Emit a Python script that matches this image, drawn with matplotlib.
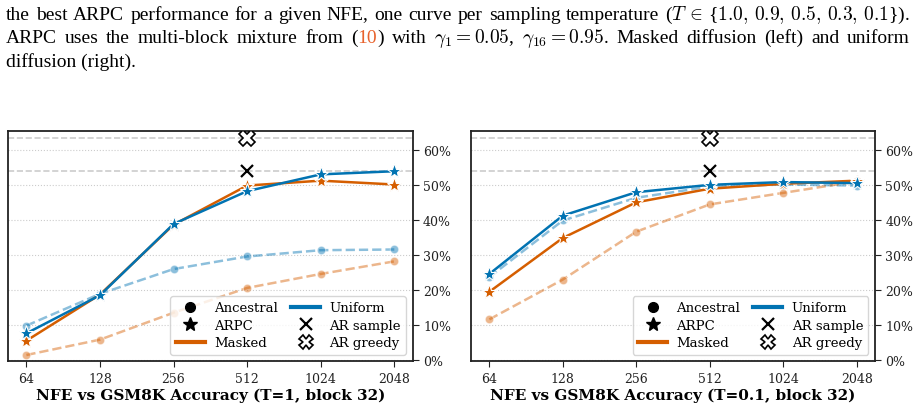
import matplotlib
matplotlib.use('Agg')
import matplotlib.pyplot as plt
from matplotlib.lines import Line2D
from matplotlib.ticker import PercentFormatter

plt.rcParams['font.family'] = 'DejaVu Serif'
plt.rcParams['mathtext.fontset'] = 'cm'

nfe = [64, 128, 256, 512, 1024, 2048]

# T=1 (left)
t1_masked_arpc = [5.4, 18.6, 38.6, 49.8, 51.2, 50.1]
t1_uniform_arpc = [7.5, 18.4, 38.8, 48.2, 53.0, 53.9]
t1_masked_anc = [1.3, 5.7, 13.4, 20.5, 24.5, 28.1]
t1_uniform_anc = [9.7, 18.8, 25.9, 29.5, 31.3, 31.5]

# T=0.1 (right)
t01_masked_arpc = [19.4, 34.8, 45.0, 48.9, 50.3, 51.2]
t01_uniform_arpc = [24.5, 41.2, 47.9, 50.0, 50.8, 50.5]
t01_masked_anc = [11.5, 22.9, 36.6, 44.4, 47.7, 51.0]
t01_uniform_anc = [23.6, 39.8, 46.3, 49.5, 50.1, 49.8]

ar_sample = 54.0
ar_greedy = 63.5
ar_nfe = 512

titles = ['NFE vs GSM8K Accuracy (T=1, block 32)',
          'NFE vs GSM8K Accuracy (T=0.1, block 32)']

BLUE = '#0173b2'
ORANGE = '#d55e00'

caption = [
    [[('the', 'k')], [('best', 'k')], [('ARPC', 'k')], [('performance', 'k')],
     [('for', 'k')], [('a', 'k')], [('given', 'k')], [('NFE,', 'k')], [('one', 'k')],
     [('curve', 'k')], [('per', 'k')], [('sampling', 'k')], [('temperature', 'k')],
     [('($T\\,\\in\\,${$1.0,\\,0.9,\\,0.5,\\,0.3,\\,0.1$}).', 'k')]],
    [[('ARPC', 'k')], [('uses', 'k')], [('the', 'k')], [('multi-block', 'k')],
     [('mixture', 'k')], [('from', 'k')], [('(', 'k'), ('10', '#e8622c'), (')', 'k')],
     [('with', 'k')], [('$\\gamma_1 = 0.05$,', 'k')], [('$\\gamma_{16} = 0.95$.', 'k')],
     [('Masked', 'k')], [('diffusion', 'k')], [('(left)', 'k')], [('and', 'k')],
     [('uniform', 'k')]],
]
caption_last = 'diffusion (right).'


def text_width(fig, renderer, s, **kw):
    t = fig.text(0, 0, s, **kw)
    w = t.get_window_extent(renderer).width
    t.remove()
    return w


def draw_caption(fig):
    W, H = fig.bbox.width, fig.bbox.height
    renderer = fig.canvas.get_renderer()
    kw = dict(fontsize=14, family='Liberation Serif')
    x0, x1 = 6, 910
    baselines = [19.5, 43.0]
    for words, yb in zip(caption, baselines):
        widths = [[text_width(fig, renderer, s, **kw) for s, c in w] for w in words]
        total = sum(sum(ws) for ws in widths)
        gap = (x1 - x0 - total) / (len(words) - 1)
        x = x0
        for w, ws in zip(words, widths):
            for (s, c), sw in zip(w, ws):
                fig.text(x / W, 1 - yb / H, s, color=c, va='baseline', ha='left', **kw)
                x += sw
            x += gap
    fig.text(x0 / W, 1 - 66.5 / H, caption_last, va='baseline', ha='left', **kw)


def plot_panel(ax, masked_arpc, uniform_arpc, masked_anc, uniform_anc, title):
    for y in [ar_sample, ar_greedy]:
        ax.axhline(y, color='#cccccc', ls='--', lw=1.2, zorder=1)
    ax.plot(nfe, uniform_anc, ls='--', color=BLUE, alpha=0.45, lw=1.8,
            marker='o', ms=6, mec='white', mew=0.8, zorder=2)
    ax.plot(nfe, masked_anc, ls='--', color=ORANGE, alpha=0.45, lw=1.8,
            marker='o', ms=6, mec='white', mew=0.8, zorder=2)
    ax.plot(nfe, masked_arpc, ls='-', color=ORANGE, lw=1.8,
            marker='*', ms=11, mec='white', mew=0.8, zorder=3)
    ax.plot(nfe, uniform_arpc, ls='-', color=BLUE, lw=1.8,
            marker='*', ms=11, mec='white', mew=0.8, zorder=3)
    ax.plot([ar_nfe], [ar_sample], ls='none', marker='x', ms=9, mew=1.6,
            color='black', zorder=4)
    ax.plot([ar_nfe], [ar_greedy], ls='none', marker='X', ms=12, mew=1.2,
            mfc='white', mec='black', zorder=4)

    ax.set_xscale('log', base=2)
    ax.set_xlim(64 * 2 ** -0.25, 2048 * 2 ** 0.25)
    ax.set_xticks(nfe)
    ax.set_xticklabels([str(n) for n in nfe])
    ax.minorticks_off()
    ax.set_ylim(-0.5, 65.5)
    ax.set_yticks(range(0, 61, 10))
    ax.yaxis.set_major_formatter(PercentFormatter(100, decimals=0))
    ax.yaxis.tick_right()
    ax.grid(axis='y', ls=':', color='#cccccc', lw=0.8)
    ax.set_axisbelow(True)
    ax.tick_params(labelsize=9, colors='#222222', length=4)
    for sp in ax.spines.values():
        sp.set_linewidth(1.3)
        sp.set_color('#222222')
    ax.set_xlabel(title, fontsize=11, fontweight='bold', labelpad=2)

    handles = [
        Line2D([], [], ls='none', marker='o', color='black', ms=7),
        Line2D([], [], ls='none', marker='*', color='black', ms=10),
        Line2D([], [], color=ORANGE, lw=3),
        Line2D([], [], color=BLUE, lw=3),
        Line2D([], [], ls='none', marker='x', color='black', ms=8, mew=1.6),
        Line2D([], [], ls='none', marker='X', mfc='white', mec='black', ms=10, mew=1.2),
    ]
    labels = ['Ancestral', 'ARPC', 'Masked', 'Uniform', 'AR sample', 'AR greedy']
    ax.legend(handles, labels, ncol=2, loc='lower right', fontsize=9.5,
              handlelength=2.2, columnspacing=1.0, labelspacing=0.35,
              borderpad=0.4, handletextpad=0.7)


fig = plt.figure(figsize=(9.23, 4.10), dpi=100)
ax1 = fig.add_axes([8 / 923, 1 - 362.3 / 410, 404.7 / 923, 230.6 / 410])
ax2 = fig.add_axes([471 / 923, 1 - 362.3 / 410, 404 / 923, 230.6 / 410])

plot_panel(ax1, t1_masked_arpc, t1_uniform_arpc, t1_masked_anc, t1_uniform_anc, titles[0])
plot_panel(ax2, t01_masked_arpc, t01_uniform_arpc, t01_masked_anc, t01_uniform_anc, titles[1])

draw_caption(fig)

fig.savefig('out.png', dpi=100)
